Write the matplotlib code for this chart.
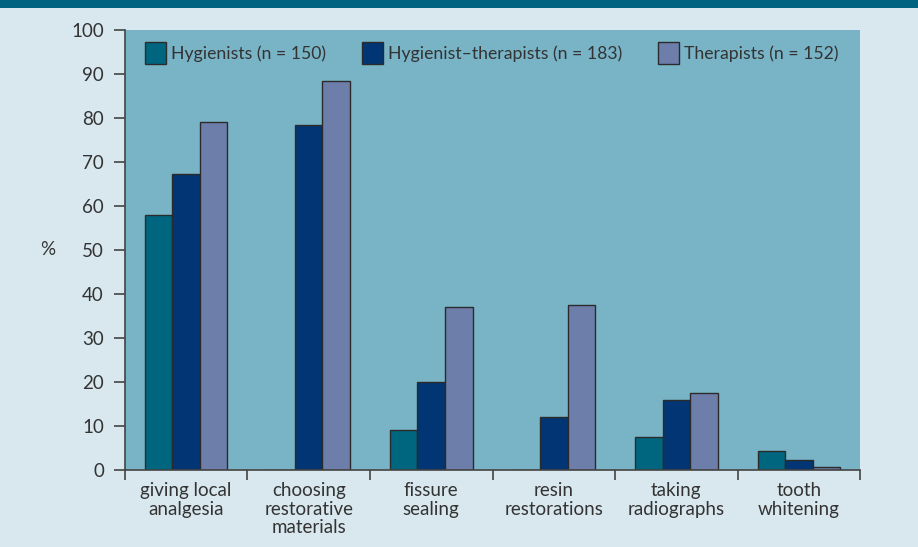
import matplotlib.pyplot as plt
import matplotlib.patches as mpatches
import numpy as np

# survey results: % of each group who carry out the task
categories = ['giving local\nanalgesia', 'choosing\nrestorative\nmaterials', 'fissure\nsealing',
              'resin\nrestorations', 'taking\nradiographs', 'tooth\nwhitening']
hygienists = [58.0, 0.0, 9.0, 0.0, 7.4, 4.2]
hyg_therapists = [67.3, 78.4, 20.0, 12.0, 15.8, 2.2]
therapists = [79.2, 88.4, 37.0, 37.5, 17.4, 0.6]
series_labels = ['Hygienists (n = 150)', 'Hygienist\u2013therapists (n = 183)', 'Therapists (n = 152)']
yticks = [0, 10, 20, 30, 40, 50, 60, 70, 80, 90, 100]

colors = ['#00667f', '#013574', '#6e7eab']
fig_bg = '#d9e8ef'
plot_bg = '#79b3c6'
text_col = '#333333'

plt.rcParams['font.family'] = ['Lato', 'DejaVu Sans']

fig = plt.figure(figsize=(9.18, 5.47), dpi=100, facecolor=fig_bg)
ax = fig.add_axes([0.136, 0.141, 0.801, 0.804])
ax.set_facecolor(plot_bg)

# header bar
fig.patches.append(mpatches.Rectangle((0, 1 - 8 / 547), 1, 8 / 547, transform=fig.transFigure,
                                      facecolor='#006480', edgecolor='none', zorder=0))

x = np.arange(len(categories))
w = 0.225
for i, vals in enumerate([hygienists, hyg_therapists, therapists]):
    ax.bar(x + (i - 1) * w, vals, width=w, color=colors[i], edgecolor='#2b2b2b',
           linewidth=1.0, label=series_labels[i], zorder=2)

ax.set_xlim(-0.5, len(categories) - 0.5)
ax.set_ylim(0, 100)
ax.set_yticks(yticks)
ax.set_yticklabels([str(v) for v in yticks], fontsize=13.5, color=text_col)
ax.set_xticks(x)
ax.set_xticklabels(categories, fontsize=13.5, color=text_col, linespacing=1.1)
ax.set_xticks(np.arange(len(categories) + 1) - 0.5, minor=True)
ax.tick_params(axis='x', which='major', length=0, pad=9)
ax.tick_params(axis='x', which='minor', length=7, width=1.2, color='#444444', direction='out')
ax.tick_params(axis='y', length=8, width=1.2, color='#444444', pad=7)

for s in ['top', 'right']:
    ax.spines[s].set_visible(False)
for s in ['left', 'bottom']:
    ax.spines[s].set_color('#444444')
    ax.spines[s].set_linewidth(1.2)

ax.set_ylabel('%', rotation=0, fontsize=13.5, color=text_col, va='center', ha='center')
ax.yaxis.set_label_coords(-0.105, 0.5)

leg = ax.legend(loc='upper left', bbox_to_anchor=(0.011, 1.0), borderaxespad=0.0, borderpad=0.68,
                ncol=3, frameon=False, fontsize=12.7, handlelength=1.2, handleheight=1.5,
                handletextpad=0.3, columnspacing=2.0, labelcolor=text_col)

fig.savefig('out.png', dpi=100, facecolor=fig_bg)
